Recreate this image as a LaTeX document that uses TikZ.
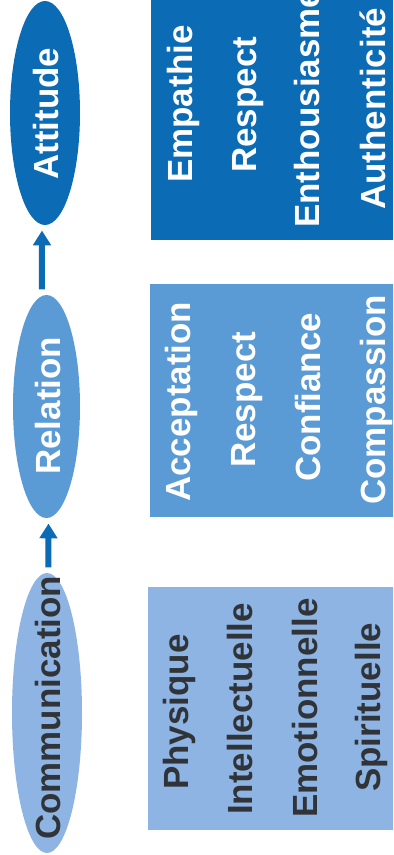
\documentclass[tikz,border=0pt]{standalone}
\usepackage{fontspec}
\setmainfont{Liberation Sans}
\usetikzlibrary{shapes.geometric,arrows.meta}
\definecolor{cDark}{RGB}{11,107,181}
\definecolor{cMid}{RGB}{90,155,213}
\definecolor{cLight}{RGB}{142,180,227}
\definecolor{cText}{RGB}{48,52,56}
\begin{document}
\begin{tikzpicture}[x=0.75pt,y=-0.75pt,
  oval/.style={ellipse,inner sep=0pt,draw=none},
  lbl/.style={rotate=90,anchor=base west,inner sep=0pt,font=\fontsize{26.2}{30}\selectfont\bfseries},
  lw/.style={lbl,text=white},
  ld/.style={lbl,text=cText},
  arr/.style={draw=cDark,line width=4.5pt,-{Triangle[width=13pt,length=11pt]},shorten >=4pt,shorten <=4pt}]
\useasboundingbox (0,0) rectangle (393,855);
\clip (0,0) rectangle (393,855);
\fill[white] (0,0) rectangle (393,855);
% panels
\fill[cDark] (151,-10) rectangle (400,240);
\fill[cMid] (150,284) rectangle (400,517);
\fill[cLight] (148,587) rectangle (400,830);
% ellipses
\node[oval,fill=cDark,minimum width=52.5pt,minimum height=168pt] (att) at (45,113) {};
\node[oval,fill=cMid,minimum width=50.25pt,minimum height=167.25pt] (rel) at (46.5,406.5) {};
\node[oval,fill=cLight,minimum width=52.5pt,minimum height=210pt] (com) at (47,713) {};
\node[lw] (attT) at (58,180) {Attitude};
\node[lw] (relT) at (60,475) {Relation};
\node[ld] (comT) at (60,840) {Communication};
% arrows
\draw[arr] ([xshift=-3.4pt]rel.north) -- ([xshift=-2.25pt]att.south);
\draw[arr] ([xshift=1pt]com.north) -- ([xshift=1.5pt]rel.south);
% attitude panel texts
\node[lw] (a1) at (192,183) {Empathie};
\node[lw] (a2) at (256,173) {Respect};
\node[lw] (a3) at (319,228) {Enthousiasme};
\node[lw] (a4) at (385,210) {Authenticité};
% relation panel texts
\node[lw] (r1) at (190,502) {Acceptation};
\node[lw] (r2) at (255,468) {Respect};
\node[lw] (r3) at (320,482) {Confiance};
\node[lw] (r4) at (385,505) {Compassion};
% communication panel texts
\node[ld] (c1) at (188,790) {Physique};
\node[ld] (c2) at (252,815) {Intellectuelle};
\node[ld] (c3) at (317,818) {Emotionnelle};
\node[ld] (c4) at (380,792) {Spirituelle};
\end{tikzpicture}
\end{document}
